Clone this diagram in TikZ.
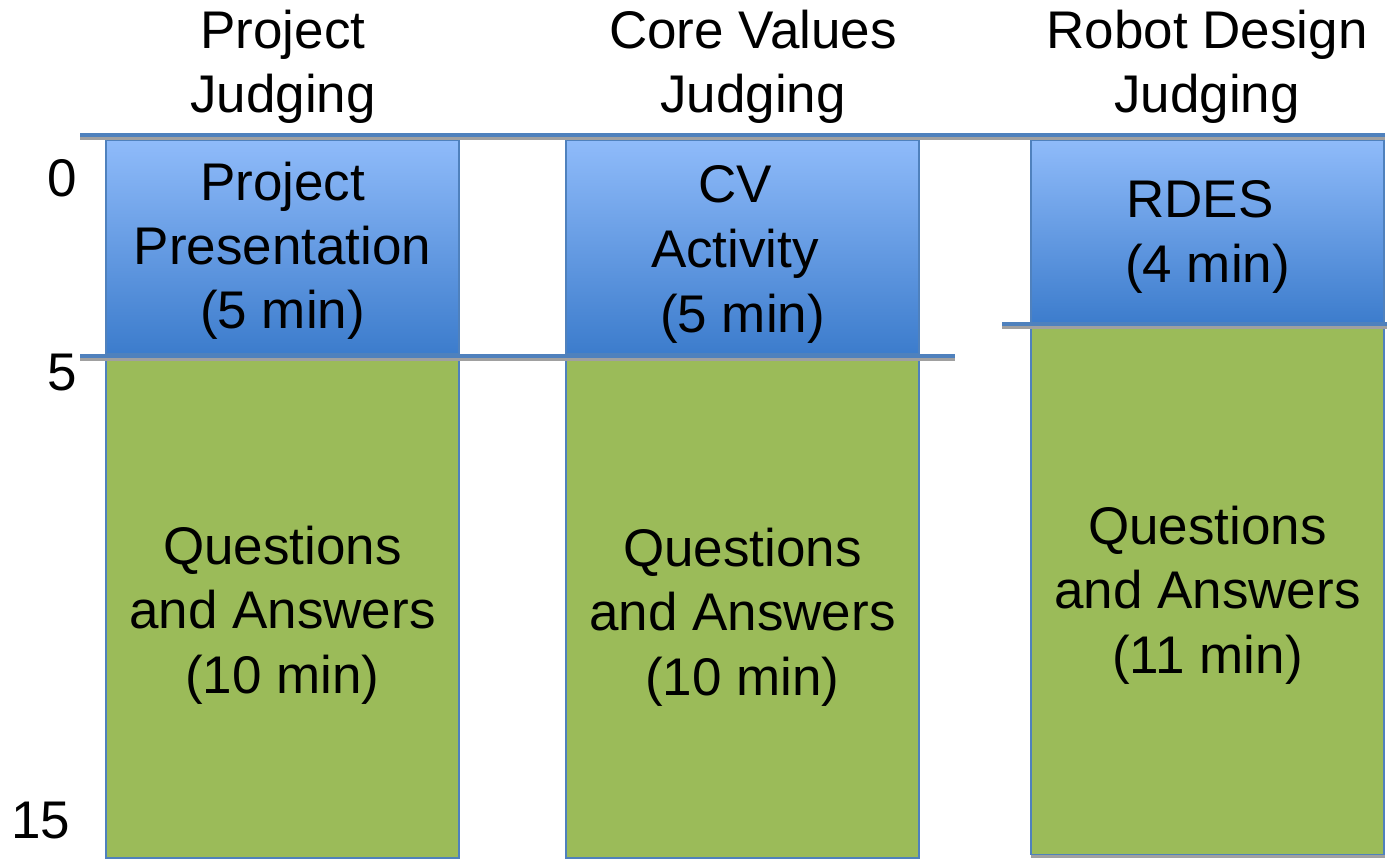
\documentclass[tikz,border=0pt]{standalone}
\usepackage{fontspec}
\setmainfont{Liberation Sans}
\definecolor{edgeblue}{RGB}{79,129,189}
\definecolor{topblue}{RGB}{143,187,250}
\definecolor{botblue}{RGB}{60,124,204}
\definecolor{fillgreen}{RGB}{155,187,89}
\definecolor{shadowgray}{RGB}{160,160,160}
\begin{document}
\begin{tikzpicture}[x=1pt,y=-1pt,
  txt/.style={anchor=base,inner sep=0pt,font=\fontsize{53}{64}\selectfont},
  bluebox/.style={draw=edgeblue,line width=1.5pt,top color=topblue,bottom color=botblue,inner sep=0pt,minimum width=353pt},
  greenbox/.style={draw=edgeblue,line width=1.5pt,fill=fillgreen,inner sep=0pt,minimum width=353pt},
  markline/.style={draw=edgeblue,line width=4pt},
  markshadow/.style={draw=shadowgray,line width=3pt}]
\useasboundingbox (0,0) rectangle (1388,860);
% boxes
\node[bluebox,minimum height=214pt] (b1) at (282.5,247) {};
\node[greenbox,minimum height=503pt] (g1) at (282.5,606.5) {};
\node[bluebox,minimum height=214pt] (b2) at (742.5,247) {};
\node[greenbox,minimum height=503pt] (g2) at (742.5,606.5) {};
\fill[shadowgray] (1031,854) rectangle (1385,858);
\node[bluebox,minimum height=184pt] (b3) at (1207.5,232) {};
\node[greenbox,minimum height=529pt] (g3) at (1207.5,590) {};
% reference lines
\coordinate (t0) at (80,135);
\coordinate (t1) at (1385,135);
\coordinate (f0) at (80,356);
\coordinate (f1) at (955,356);
\coordinate (r0) at (1002,324);
\coordinate (r1) at (1387,324);
\draw[markshadow] ([yshift=-3pt]t0) -- ([yshift=-3pt]t1);
\draw[markline] (t0) -- (t1);
\draw[markshadow] ([yshift=-3pt]f0) -- ([yshift=-3pt]f1);
\draw[markline] (f0) -- (f1);
\draw[markshadow] ([yshift=-3pt]r0) -- ([yshift=-3pt]r1);
\draw[markline] (r0) -- (r1);
% headers
\node[txt] (h1a) at (283,48) {Project};
\node[txt] (h1b) at (283,112) {Judging};
\node[txt] (h2a) at (753,48) {Core Values};
\node[txt] (h2b) at (753,112) {Judging};
\node[txt] (h3a) at (1207,48) {Robot Design};
\node[txt] (h3b) at (1207,112) {Judging};
% axis
\node[txt] (a0) at (62,196) {0};
\node[txt] (a5) at (62,390) {5};
\node[txt] (a15) at (41,838) {15};
% box texts
\node[txt] (p1) at (282.5,200) {Project};
\node[txt] (p2) at (282.5,264) {Presentation};
\node[txt] (p3) at (282.5,328) {(5 min)};
\node[txt] (c1) at (735,202) {CV};
\node[txt] (c2) at (735,267) {Activity};
\node[txt] (c3) at (742.5,332) {(5 min)};
\node[txt] (r1t) at (1200,217) {RDES};
\node[txt] (r2t) at (1207.5,282) {(4 min)};
\node[txt] (q1a) at (282.5,564) {Questions};
\node[txt] (q1b) at (282.5,628) {and Answers};
\node[txt] (q1c) at (282.5,693) {(10 min)};
\node[txt] (q2a) at (742.5,566) {Questions};
\node[txt] (q2b) at (742.5,630) {and Answers};
\node[txt] (q2c) at (742.5,695) {(10 min)};
\node[txt] (q3a) at (1207.5,544) {Questions};
\node[txt] (q3b) at (1207.5,608) {and Answers};
\node[txt] (q3c) at (1207.5,673) {(11 min)};
\end{tikzpicture}
\end{document}
